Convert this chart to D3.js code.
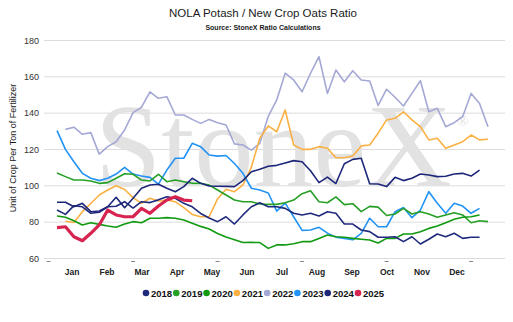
<!DOCTYPE html>
<html>
  <head>
    <title>NOLA Potash / New Crop Oats Ratio</title>
    <style>
      body { margin: 0; background: #fff; }
      text { font-family: 'Liberation Sans', Arial, sans-serif; }
      text.mark { font-family: 'Liberation Serif', 'Times New Roman', serif; }
    </style>
  </head>
  <body>
    <script src="https://cdnjs.cloudflare.com/ajax/libs/d3/7.8.5/d3.min.js"></script>
    <script>
      // weekly ratio values, index = week of the year (null = no data that week)
      let months = ['Jan', 'Feb', 'Mar', 'Apr', 'May', 'Jun', 'Jul', 'Aug', 'Sep', 'Oct', 'Nov', 'Dec'];
      let years = ['2018', '2019', '2020', '2021', '2022', '2023', '2024', '2025'];
      let yTicks = [60, 80, 100, 120, 140, 160, 180];
      let tickWeeks = [-1, 9, 19, 29, 39, 49];

      let y2018 = [86.4, 84, 88.8, 88.2, 84.6, 85.2, 88.2, 88.5, 91, 87.5,
                   91, 90.5, 92, 93.7, 92.9, 90.1, 88.2, 84.5, 82, 80,
                   82.7, 78.7, 83.7, 88.2, 90.4, 88.2, 88.2, 87.3, 84.6, 83.7,
                   84.6, 83.1, 85.5, 84.6, 78.7, 78.7, 75.4, 74.5, 71.4, 71.4,
                   71.7, 69, 71.7, 67.7, 70.3, 73.2, 71.7, 73.6, 70.8, 71.4, 71.4];
      let y2019 = [106.8, 104.8, 102.9, 102.9, 102.4, 101.1, 101.5, 103.9, 106.4, 106.1,
                   102.9, 102.4, 106.1, 102, 102.9, 102, 101.1, 101.1, 100.2, 97.4,
                   94.7, 91.9, 91, 91, 89.7, 89.5, 89.5, 90.4, 91.9, 95.4,
                   97, 91, 90.4, 93.6, 89.4, 89.9, 85.5, 88.4, 88, 83.4,
                   84.2, 87.3, 84.2, 85.5, 84.2, 82.4, 83.7, 84.9, 83.7, 79.4, 80.5, 80];
      let y2020 = [83.1, 82.4, 80.5, 78.2, 79.4, 78.5, 77.6, 76.9, 78.7, 80,
                   79.4, 81.9, 81.9, 82.2, 81.9, 80.9, 79.1, 77.4, 76, 73.5,
                   71.5, 70, 68.5, 68.6, 68.5, 65.3, 67.2, 67.2, 67.8, 69,
                   69, 70.8, 72.7, 71.7, 71.4, 70.8, 70.3, 69.9, 68.3, 70.8,
                   70.8, 73.2, 73.2, 74.5, 76.3, 77.6, 79.4, 81.3, 82.4, 82.7, 83.7];
      let y2021 = [null, 80.2, 79.5, 85.5, 90, 94.7, 97.4, 99.8, 97.7, 93.2,
                   90.1, 92.9, 91.4, 91.9, 91, 87.7, 84, 82.7, 82.7, 92.5,
                   97.8, 96.5, 100.2, 110, 126, 132.7, 129.5, 141.5, 122.2, 119.8,
                   119.8, 121.3, 120.4, 115.2, 115.2, 116.1, 121.7, 122.2, 128.7, 136,
                   136.9, 140.5, 136, 132.3, 125, 125.9, 120.4, 122.2, 124, 127.7, 125, 125.4];
      let y2022 = [null, 130.8, 132, 128.1, 129, 117.2, 121.3, 124, 130.5, 140,
                   143, 151.5, 147.9, 148.8, 138.7, 138.7, 136.3, 134.1, 136.3, 134.5,
                   133.2, 122.8, 122.2, 119.4, 123.1, 138, 147, 161.7, 158, 151.5,
                   161.7, 170.8, 150.6, 163.5, 157, 163.1, 158, 157.4, 144, 152.9,
                   148.5, 143.7, 150.6, 157.6, 140.5, 142.4, 132.3, 134.5, 137.8, 150.6, 145.1, 132.3];
      let y2023 = [130.1, 119.8, 113, 106.6, 103.9, 102.6, 103.9, 106.2, 109.9, 106.2,
                   105.1, 104.4, 100.7, 108.4, 114.9, 114.9, 123.1, 121.3, 116.7, 116.1,
                   116.4, 112, 106.6, 98.4, 97.4, 95.8, 85.8, 90.2, 82.7, 75.2,
                   75.4, 76.9, 73.7, 71.5, 70.8, 70, 73.6, 81.9, 77.2, 77.2,
                   85.5, 87.8, 82.2, 86.4, 96.5, 90.1, 84.6, 90.1, 88.6, 84.6, 87.3];
      let y2024 = [90.7, 90.7, 88.2, 90.1, 85.5, 85.9, 88.2, 93.4, 87.7, 92.9,
                   98.4, 100.2, 100.6, 98.4, 96.5, 99.3, 103.9, 101.1, 99.6, 99.5,
                   99.4, 99.3, 102.6, 107.5, 108.8, 110.5, 111, 112.3, 113.6, 113,
                   108, 101.5, 104.5, 101, 111.9, 114.3, 114.9, 100.9, 100.7, 99.3,
                   104.4, 102.6, 103.9, 106.2, 105.7, 104.8, 105, 106.2, 106.6, 105.1, 108.4];
      let y2025 = [76.7, 77.2, 71.7, 69.5, 73.6, 78.2, 86.4, 83.7, 82.7, 82.7,
                   87.3, 84.6, 88.6, 91.9, 93.7, 91.9, 91.5];

      let series = [
        { year: '2022', values: y2022 },
        { year: '2021', values: y2021 },
        { year: '2023', values: y2023 },
        { year: '2019', values: y2019 },
        { year: '2020', values: y2020 },
        { year: '2018', values: y2018 },
        { year: '2024', values: y2024 },
        { year: '2025', values: y2025 }
      ];

      let colors = {
        '2018': '#1f2a7c', '2019': '#25a025', '2020': '#119a11', '2021': '#fbb043',
        '2022': '#a4a8d5', '2023': '#2293f5', '2024': '#1c2779', '2025': '#d7234f'
      };

      let canvas = d3.select('body')
                     .append('svg')
                     .attr('width', 513)
                     .attr('height', 322);

      let xScale = d3.scaleLinear()
                     .domain([0, 51])
                     .range([57, 488]);

      let yScale = d3.scaleLinear()
                     .domain([60, 180])
                     .range([258, 40]);

      let monthScale = d3.scalePoint()
                         .domain(months)
                         .range([72, 457]);

      let legendScale = d3.scalePoint()
                          .domain(years)
                          .range([146, 358]);

      // titles
      canvas.append('text')
            .attr('x', 263)
            .attr('y', 17)
            .attr('text-anchor', 'middle')
            .attr('font-size', '11.5px')
            .attr('fill', '#1a1a1a')
            .text('NOLA Potash / New Crop Oats Ratio');

      canvas.append('text')
            .attr('x', 263)
            .attr('y', 30)
            .attr('text-anchor', 'middle')
            .attr('font-size', '7px')
            .attr('font-weight', 'bold')
            .attr('fill', '#1a1a1a')
            .text('Source: StoneX Ratio Calculations');

      // gridlines + y labels
      canvas.selectAll('.grid')
            .data(yTicks)
            .enter()
              .append('line')
              .attr('class', 'grid')
              .attr('x1', 44)
              .attr('x2', 505)
              .attr('y1', (d) => yScale(d) + 0.5)
              .attr('y2', (d) => yScale(d) + 0.5)
              .attr('stroke', '#dcdcdc')
              .attr('stroke-width', 1);

      canvas.selectAll('.ylab')
            .data(yTicks)
            .enter()
              .append('text')
              .attr('class', 'ylab')
              .attr('x', 39)
              .attr('y', (d) => yScale(d) + 3.5)
              .attr('text-anchor', 'end')
              .attr('font-size', '9px')
              .attr('fill', '#333')
              .text((d) => d);

      canvas.append('text')
            .attr('transform', 'translate(16,148) rotate(-90)')
            .attr('text-anchor', 'middle')
            .attr('font-size', '9px')
            .attr('fill', '#1a1a1a')
            .text('Unit of Crop Per Ton of Fertilizer');

      // watermark
      canvas.append('text')
            .attr('class', 'mark')
            .attr('x', 95)
            .attr('y', 186)
            .attr('font-size', '119px')
            .attr('fill', '#e2e2e2')
            .text('StoneX');

      canvas.append('text')
            .attr('class', 'mark')
            .attr('x', 457)
            .attr('y', 126)
            .attr('font-size', '15px')
            .attr('fill', '#e2e2e2')
            .text('\u00AE');

      // small tick dashes under the axis
      canvas.selectAll('.tick')
            .data(tickWeeks)
            .enter()
              .append('line')
              .attr('class', 'tick')
              .attr('x1', (d) => xScale(d) - 2)
              .attr('x2', (d) => xScale(d) + 2)
              .attr('y1', 261.5)
              .attr('y2', 261.5)
              .attr('stroke', '#888')
              .attr('stroke-width', 1);

      canvas.selectAll('.month')
            .data(months)
            .enter()
              .append('text')
              .attr('class', 'month')
              .attr('x', (d) => monthScale(d))
              .attr('y', 275)
              .attr('text-anchor', 'middle')
              .attr('font-size', '8.5px')
              .attr('font-weight', 'bold')
              .attr('fill', '#222')
              .text((d) => d);

      // lines
      let line = d3.line()
                   .defined((d) => d != null)
                   .x((d, i) => xScale(i))
                   .y((d) => yScale(d));

      canvas.selectAll('.series')
            .data(series)
            .enter()
              .append('path')
              .attr('class', 'series')
              .attr('d', (d) => line(d.values))
              .attr('fill', 'none')
              .attr('stroke', (d) => colors[d.year])
              .attr('stroke-width', (d) => d.year == '2025' ? 3.2 : 1.6)
              .attr('stroke-linejoin', 'round');

      // legend
      let legend = canvas.selectAll('.legend')
                         .data(years)
                         .enter()
                           .append('g')
                           .attr('class', 'legend')
                           .attr('transform', (d) => 'translate(' + legendScale(d) + ',293)');

      legend.append('circle')
            .attr('r', 3.3)
            .attr('fill', (d) => colors[d]);

      legend.append('text')
            .attr('x', 5)
            .attr('y', 3.5)
            .attr('font-size', '9.5px')
            .attr('font-weight', 'bold')
            .attr('fill', '#111')
            .text((d) => d);
    </script>
  </body>
</html>
